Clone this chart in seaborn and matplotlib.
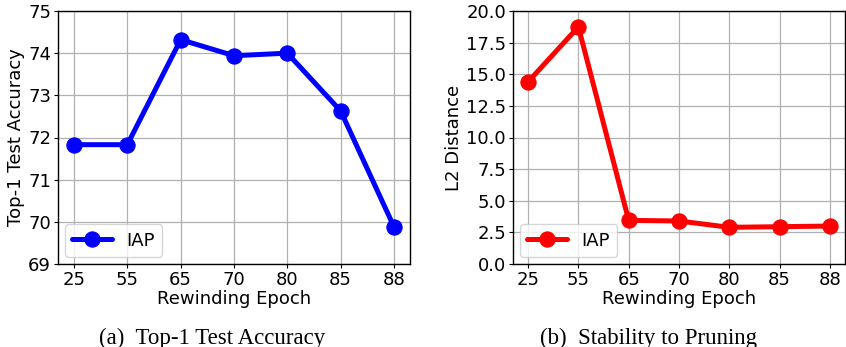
import pandas as pd
import seaborn as sns
import matplotlib.pyplot as plt

# data
epochs = ["25", "55", "65", "70", "80", "85", "88"]
top1_acc = [71.83, 71.83, 74.32, 73.94, 74.00, 72.63, 69.88]
l2_dist = [14.4, 18.75, 3.45, 3.40, 2.90, 2.95, 3.00]

sns.set_style("whitegrid", {"grid.color": "#b0b0b0", "axes.edgecolor": "black"})
plt.rcParams["font.family"] = ["DejaVu Sans"]
plt.rcParams.update({"text.color": "black", "axes.labelcolor": "black",
                     "xtick.color": "black", "ytick.color": "black"})

def draw_panel(ax, values, color, ylabel, ylim, yticks, fmt):
    df = pd.DataFrame({"pos": range(len(epochs)), "val": values})
    sns.lineplot(data=df, x="pos", y="val", ax=ax, color=color, marker="o",
                 linewidth=3.6, markersize=11, markeredgecolor=color, label="IAP")
    ax.set_xticks(range(len(epochs)))
    ax.set_xticklabels(epochs)
    ax.set_ylim(*ylim)
    ax.set_yticks(yticks)
    ax.set_yticklabels([fmt.format(t) for t in yticks])
    ax.set_xlabel("Rewinding Epoch", fontsize=13, labelpad=1)
    ax.set_ylabel(ylabel, fontsize=13, labelpad=2)
    ax.tick_params(labelsize=13, pad=2, length=3, color="black", left=True, bottom=True)
    ax.grid(True, color="#b0b0b0", linewidth=0.9)
    for s in ax.spines.values():
        s.set_color("black")
        s.set_linewidth(1.0)
    ax.legend(loc="lower left", fontsize=13, handlelength=2.2, borderaxespad=0.4,
              framealpha=0.8, edgecolor="#cccccc")

fig = plt.figure(figsize=(8.46, 3.47), dpi=100)
ax1 = fig.add_axes([58 / 846, 83 / 347, 352 / 846, 253 / 347])
ax2 = fig.add_axes([513 / 846, 83 / 347, 332 / 846, 253 / 347])

draw_panel(ax1, top1_acc, "#0000ff", "Top-1 Test Accuracy", (69, 75),
           [69, 70, 71, 72, 73, 74, 75], "{:.0f}")
draw_panel(ax2, l2_dist, "#ff0000", "L2 Distance", (0, 20),
           [0, 2.5, 5, 7.5, 10, 12.5, 15, 17.5, 20], "{:.1f}")

fig.text(212 / 846, 1 - 338 / 347, "(a)  Top-1 Test Accuracy", ha="center", va="center",
         fontsize=16.5, family="Liberation Serif")
fig.text(648 / 846, 1 - 338 / 347, "(b)  Stability to Pruning", ha="center", va="center",
         fontsize=16.5, family="Liberation Serif")

fig.savefig("out.png", dpi=100)
